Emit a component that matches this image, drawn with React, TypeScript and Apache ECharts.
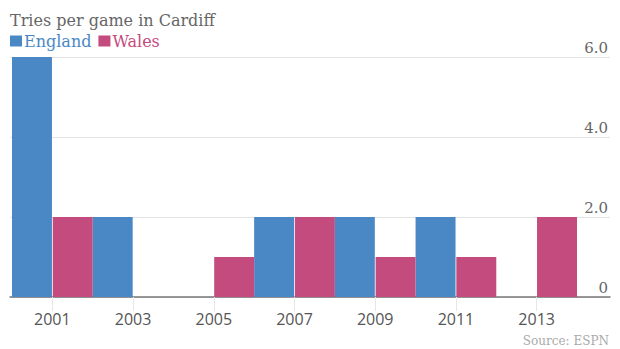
import React, { useEffect, useRef } from "react";
import * as echarts from "echarts";

const years = ["2001", "2003", "2005", "2007", "2009", "2011", "2013"];
const england = [6, 2, 0, 2, 2, 2, 0];
const wales = [2, 0, 1, 2, 1, 1, 2];
const yMax = 6;
const yInterval = 2;

const BLUE = "#4a88c5";
const PINK = "#c44b7d";

export default function App() {
  const ref = useRef<HTMLDivElement>(null);
  useEffect(() => {
    if (!ref.current) return;
    const chart = echarts.init(ref.current, undefined, { renderer: "svg" });
    const grids = { top: 57, bottom: 52 };
    chart.setOption({
      animation: false,
      backgroundColor: "#ffffff",
      title: {
        text: "Tries per game in Cardiff",
        left: 8,
        top: 6,
        padding: [5, 2, 0, 2],
        textStyle: { fontFamily: "DejaVu Serif", fontSize: 16, lineHeight: 18, fontWeight: "normal", color: "#666666" },
      },
      legend: {
        left: 10,
        top: 33,
        icon: "rect",
        itemWidth: 12,
        itemHeight: 11,
        itemGap: 7,
        padding: 0,
        textStyle: { fontFamily: "DejaVu Serif", fontSize: 16, lineHeight: 16, padding: [0, 0, 0, -3] },
        data: [
          { name: "England", textStyle: { color: BLUE } },
          { name: "Wales", textStyle: { color: PINK } },
        ],
      },
      graphic: [
        {
          type: "text",
          right: 11,
          bottom: 2,
          style: { text: "Source: ESPN", fontFamily: "DejaVu Serif", fontSize: 12, fill: "#aaaaaa" },
        },
      ],
      grid: [
        { left: 10, right: 10, ...grids },
        { left: 12, right: 43, ...grids },
      ],
      xAxis: [
        {
          type: "value",
          gridIndex: 0,
          min: 0,
          max: 1,
          axisLine: { show: true, lineStyle: { color: "#777777", width: 1.5 } },
          axisTick: { show: false },
          axisLabel: { show: false },
          splitLine: { show: false },
        },
        {
          type: "category",
          gridIndex: 1,
          data: years,
          axisLine: { show: false },
          axisTick: { show: true, alignWithLabel: true, length: 14, lineStyle: { color: "#e6e6e6" } },
          axisLabel: { margin: 14, fontFamily: "Open Sans", fontSize: 16, color: "#555555" },
        },
      ],
      yAxis: [
        {
          type: "value",
          gridIndex: 0,
          position: "right",
          min: 0,
          max: yMax,
          interval: yInterval,
          axisLine: { show: false },
          axisTick: { show: false },
          splitLine: { show: true, lineStyle: { color: "#e3e3e3", width: 1 } },
          axisLabel: {
            inside: true,
            margin: 2,
            verticalAlign: "bottom",
            padding: [0, 0, 2, 0],
            fontFamily: "DejaVu Serif",
            fontSize: 15,
            color: "#666666",
            formatter: (v: number) => (v === 0 ? "0" : v.toFixed(1)),
          },
        },
        {
          type: "value",
          gridIndex: 1,
          min: 0,
          max: yMax,
          interval: yInterval,
          show: false,
        },
      ],
      series: [
        {
          name: "England",
          type: "bar",
          xAxisIndex: 1,
          yAxisIndex: 1,
          data: england,
          barGap: "2%",
          barCategoryGap: "0%",
          itemStyle: { color: BLUE },
        },
        {
          name: "Wales",
          type: "bar",
          xAxisIndex: 1,
          yAxisIndex: 1,
          data: wales,
          barGap: "2%",
          barCategoryGap: "0%",
          itemStyle: { color: PINK },
        },
      ],
    });
    return () => chart.dispose();
  }, []);
  return <div ref={ref} style={{ width: 620, height: 349, position: "absolute", left: 0, top: 0 }} />;
}
